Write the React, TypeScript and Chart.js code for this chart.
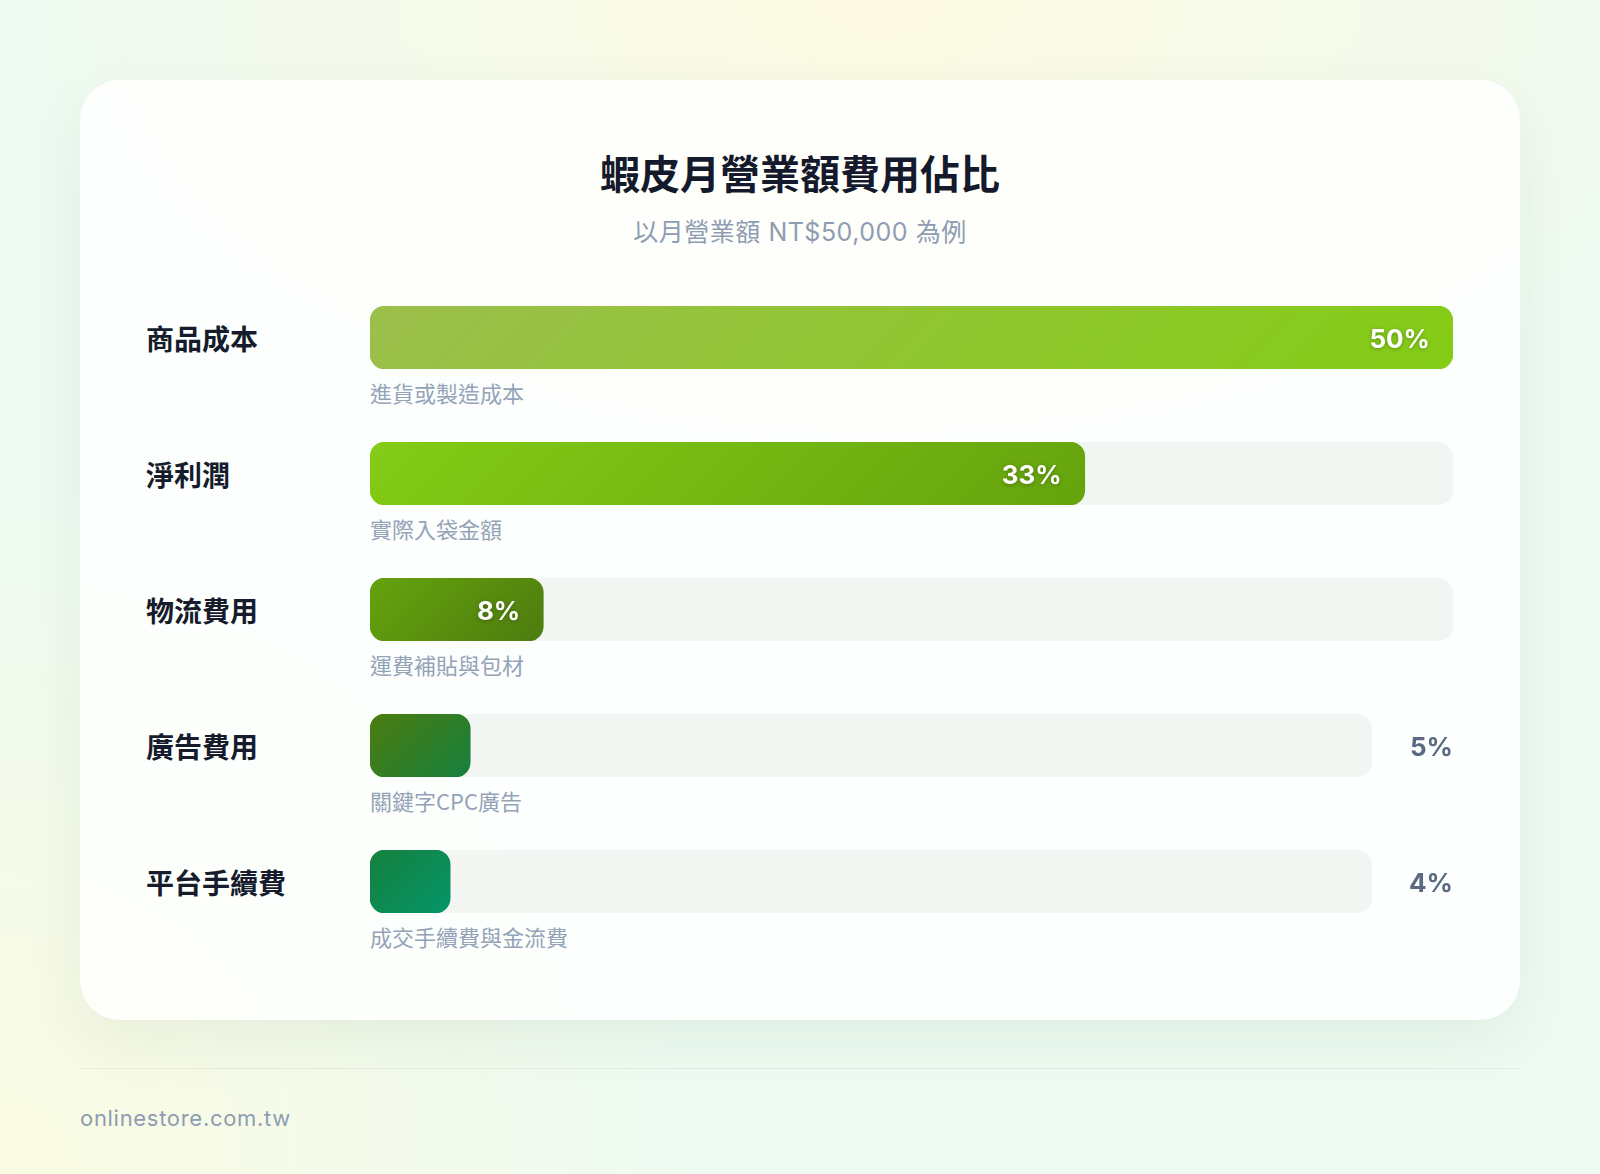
import React, { useEffect, useRef } from 'react';
import { Chart, registerables } from 'chart.js';

Chart.register(...registerables);

const categories = ['商品成本', '淨利潤', '物流費用', '廣告費用', '平台手續費'];
const descriptions = ['進貨或製造成本', '實際入袋金額', '運費補貼與包材', '關鍵字CPC廣告', '成交手續費與金流費'];
const values = [50, 33, 8, 5, 4];
const valueLabels = values.map((v) => `${v}%`);
const scaleMax = 50;
const gradientStart = ['#9cbf4c', '#84cc16', '#65a30d', '#4d7c0f', '#15803d'];
const gradientEnd = ['#84cc16', '#65a30d', '#4d7c0f', '#15803d', '#059669'];
const INSIDE_MIN = 6;

const TITLE = '蝦皮月營業額費用佔比';
const SUBTITLE = '以月營業額 NT$50,000 為例';
const FOOTER = 'onlinestore.com.tw';

const CJK = '"Noto Sans CJK TC", "Noto Sans CJK SC", "Noto Sans", sans-serif';
const LATIN = 'Inter, "Noto Sans CJK TC", "Noto Sans", sans-serif';

const BAR_LEFT = 370;
const BAR_WIDTH = 1083;
const BAR_HEIGHT = 63;
const FIRST_TOP = 306;
const ROW_PITCH = 136;
const OUTSIDE_GAP = 81;
const RADIUS = 15;
const TRACK = 'rgba(30, 41, 30, 0.045)';

function BarRow({ index }: { index: number }) {
  const ref = useRef<HTMLCanvasElement | null>(null);

  useEffect(() => {
    if (!ref.current) return;
    const inside = values[index] >= INSIDE_MIN;

    const trackPlugin = {
      id: 'track',
      beforeDatasetsDraw(chart: any) {
        const { ctx, chartArea: a } = chart;
        ctx.save();
        ctx.fillStyle = TRACK;
        ctx.beginPath();
        ctx.roundRect(a.left, a.top, a.right - a.left, a.bottom - a.top, RADIUS);
        ctx.fill();
        ctx.restore();
      },
    };

    const labelPlugin = {
      id: 'valueLabel',
      afterDatasetsDraw(chart: any) {
        const el = chart.getDatasetMeta(0).data[0];
        if (!el) return;
        const { ctx } = chart;
        ctx.save();
        ctx.font = `700 26px ${LATIN}`;
        ctx.textAlign = 'right';
        ctx.textBaseline = 'middle';
        if (inside) {
          ctx.shadowColor = 'rgba(0,0,0,0.28)';
          ctx.shadowBlur = 4;
          ctx.shadowOffsetY = 1;
          ctx.fillStyle = '#ffffff';
          ctx.fillText(valueLabels[index], el.x - 23, el.y + 3);
        } else {
          ctx.fillStyle = '#5b6a80';
          ctx.fillText(valueLabels[index], chart.width, el.y + 3);
        }
        ctx.restore();
      },
    };

    const chart = new Chart(ref.current, {
      type: 'bar',
      data: {
        labels: [categories[index]],
        datasets: [
          {
            data: [values[index]],
            backgroundColor: (c: any) => {
              const ch = c.chart;
              const a = ch.chartArea;
              if (!a) return gradientEnd[index];
              const x0 = ch.scales.x.getPixelForValue(0);
              const x1 = ch.scales.x.getPixelForValue(values[index]);
              const w = x1 - x0;
              const h = a.bottom - a.top;
              const cx = (x0 + x1) / 2;
              const cy = (a.top + a.bottom) / 2;
              const d = (w + h) / 4;
              const g = ch.ctx.createLinearGradient(cx - d, cy - d, cx + d, cy + d);
              g.addColorStop(0, gradientStart[index]);
              g.addColorStop(1, gradientEnd[index]);
              return g;
            },
            borderRadius: RADIUS,
            borderSkipped: false,
            borderWidth: 0,
            barPercentage: 1,
            categoryPercentage: 1,
          },
        ],
      },
      options: {
        indexAxis: 'y',
        animation: false,
        responsive: true,
        maintainAspectRatio: false,
        events: [],
        layout: { padding: { left: 0, right: inside ? 0 : OUTSIDE_GAP, top: 0, bottom: 0 } },
        scales: {
          x: { min: 0, max: scaleMax, display: false },
          y: { display: false },
        },
        plugins: {
          legend: { display: false },
          tooltip: { enabled: false },
        },
      },
      plugins: [trackPlugin, labelPlugin],
    } as any);

    return () => chart.destroy();
  }, [index]);

  const top = FIRST_TOP + ROW_PITCH * index;
  return (
    <>
      <div
        style={{
          position: 'absolute',
          left: 146,
          top,
          height: BAR_HEIGHT,
          display: 'flex',
          alignItems: 'center',
          fontFamily: CJK,
          fontWeight: 700,
          fontSize: 28,
          color: '#161c2c',
          whiteSpace: 'nowrap',
        }}
      >
        {categories[index]}
      </div>
      <div style={{ position: 'absolute', left: BAR_LEFT, top, width: BAR_WIDTH, height: BAR_HEIGHT }}>
        <canvas ref={ref} />
      </div>
      <div
        style={{
          position: 'absolute',
          left: BAR_LEFT,
          top: top + BAR_HEIGHT + 12,
          fontFamily: CJK,
          fontSize: 22,
          lineHeight: '22px',
          color: '#94a3b8',
          whiteSpace: 'nowrap',
        }}
      >
        {descriptions[index]}
      </div>
    </>
  );
}

export default function App() {
  return (
    <div
      style={{
        position: 'absolute',
        left: 0,
        top: 0,
        width: 1600,
        height: 1174,
        overflow: 'hidden',
        backgroundColor: '#eefbf2',
        backgroundImage:
          'radial-gradient(ellipse 900px 500px at 55% 0%, rgba(254,250,226,0.95), rgba(254,250,226,0) 100%), radial-gradient(ellipse 700px 700px at 0% 100%, rgba(251,251,226,0.95), rgba(251,251,226,0) 100%)',
      }}
    >
      <div
        style={{
          position: 'absolute',
          left: 80,
          top: 80,
          width: 1440,
          height: 940,
          borderRadius: 40,
          background: 'rgba(255,255,255,0.82)',
          boxShadow: '0 20px 60px rgba(30, 70, 40, 0.07)',
        }}
      />
      <div
        style={{
          position: 'absolute',
          left: 80,
          width: 1440,
          top: 152,
          textAlign: 'center',
          fontFamily: CJK,
          fontWeight: 700,
          fontSize: 40,
          lineHeight: '40px',
          color: '#141a2b',
        }}
      >
        {TITLE}
      </div>
      <div
        style={{
          position: 'absolute',
          left: 80,
          width: 1440,
          top: 220,
          textAlign: 'center',
          fontFamily: LATIN,
          fontSize: 25,
          lineHeight: '25px',
          letterSpacing: '0.5px',
          color: '#8e9db2',
        }}
      >
        {SUBTITLE}
      </div>
      {categories.map((_, i) => (
        <BarRow key={i} index={i} />
      ))}
      <div
        style={{
          position: 'absolute',
          left: 80,
          top: 1068,
          width: 1440,
          height: 1,
          background: 'rgba(40, 80, 40, 0.07)',
        }}
      />
      <div
        style={{
          position: 'absolute',
          left: 80,
          top: 1107,
          fontFamily: LATIN,
          fontSize: 22,
          lineHeight: '22px',
          letterSpacing: '0.7px',
          color: '#8e9db2',
          whiteSpace: 'nowrap',
        }}
      >
        {FOOTER}
      </div>
    </div>
  );
}
